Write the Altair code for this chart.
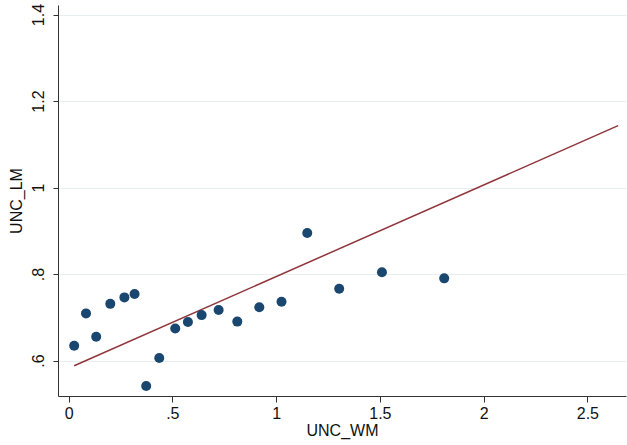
import altair as alt
import pandas as pd

unc_wm = [0.027, 0.084, 0.133, 0.201, 0.269, 0.318, 0.374, 0.437, 0.514, 0.575,
          0.641, 0.723, 0.813, 0.919, 1.026, 1.150, 1.304, 1.510, 1.810]
unc_lm = [0.634, 0.709, 0.655, 0.731, 0.746, 0.754, 0.541, 0.606, 0.674, 0.689,
          0.705, 0.717, 0.690, 0.723, 0.736, 0.895, 0.766, 0.804, 0.790]
fit_x = [0.027, 2.648]
fit_y = [0.588, 1.143]

x_ticks = [0, 0.5, 1, 1.5, 2, 2.5]
y_ticks = [0.6, 0.8, 1.0, 1.2, 1.4]

pts = pd.DataFrame({"UNC_WM": unc_wm, "UNC_LM": unc_lm})
fit = pd.DataFrame({"UNC_WM": fit_x, "UNC_LM": fit_y})

FONT = "Liberation Sans"
lab_expr = "replace(format(datum.value, '~g'), /^0\\./, '.')"

xscale = alt.Scale(domain=[-0.051, 2.686], nice=False, zero=False)
yscale = alt.Scale(domain=[0.518, 1.422], nice=False, zero=False)

xaxis = alt.Axis(values=x_ticks, labelExpr=lab_expr, grid=False, tickSize=6,
                 tickColor="#333333", domainColor="#333333", labelFont=FONT,
                 labelFontSize=16, labelColor="#111111", labelPadding=3,
                 titleFont=FONT, titleFontSize=16, titleFontWeight="normal",
                 titleColor="#111111", titlePadding=1)
yaxis = alt.Axis(values=y_ticks, labelExpr=lab_expr, grid=True, gridColor="#e6eef0",
                 gridWidth=1.2, tickSize=5, tickColor="#333333", domainColor="#333333",
                 labelFont=FONT, labelFontSize=16, labelColor="#111111", labelAngle=270,
                 labelAlign="center", labelBaseline="bottom", labelPadding=7,
                 titleFont=FONT, titleFontSize=16, titleFontWeight="normal",
                 titleColor="#111111", titlePadding=6)

points = alt.Chart(pts).mark_circle(size=100, color="#1a476f", opacity=1).encode(
    x=alt.X("UNC_WM:Q", scale=xscale, axis=xaxis, title="UNC_WM"),
    y=alt.Y("UNC_LM:Q", scale=yscale, axis=yaxis, title="UNC_LM"),
)
line = alt.Chart(fit).mark_line(color="#90353b", strokeWidth=1.5).encode(
    x=alt.X("UNC_WM:Q", scale=xscale),
    y=alt.Y("UNC_LM:Q", scale=yscale),
)

chart = (line + points).properties(
    width=568, height=391,
    autosize=alt.AutoSizeParams(type="none"),
    padding={"left": 58, "top": 5, "right": 1, "bottom": 49},
    background="white",
).configure_view(stroke=None)

chart.save("out.html", embed_options={"renderer": "svg", "actions": False})
